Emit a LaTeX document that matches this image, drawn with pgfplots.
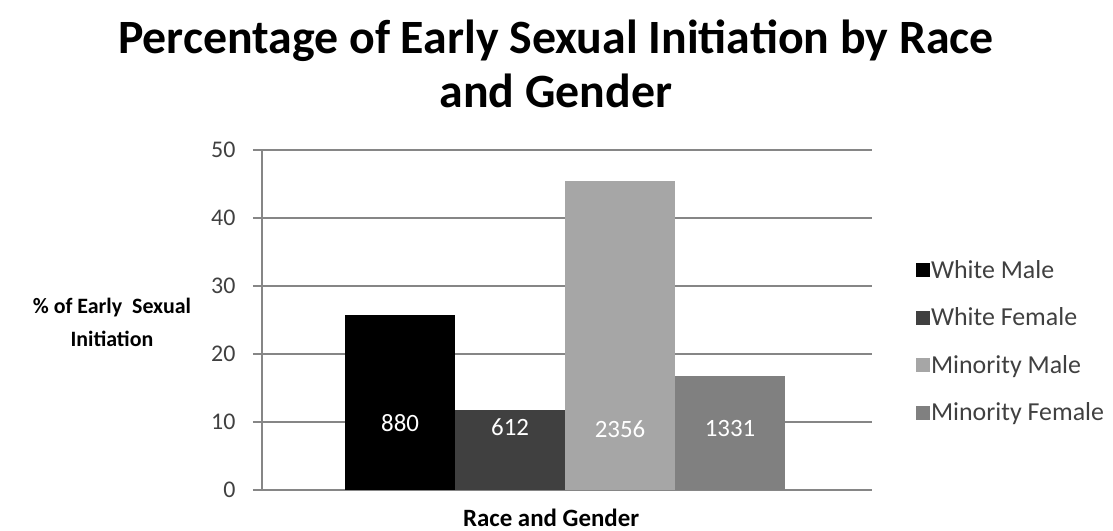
\documentclass[border=0pt]{standalone}
\usepackage{pgfplots}
\pgfplotsset{compat=1.18}
\usepackage{fontspec}
\setmainfont{Carlito}
\definecolor{wm}{HTML}{000000}
\definecolor{wf}{HTML}{404040}
\definecolor{mm}{HTML}{A6A6A6}
\definecolor{mf}{HTML}{808080}
\definecolor{gridc}{HTML}{868686}
\definecolor{txt}{HTML}{404040}
\begin{document}
\begin{tikzpicture}
\path[use as bounding box] (-262bp,-41bp) rectangle (851bp,490bp);
\begin{axis}[
  scale only axis,
  width=610bp, height=340bp,
  xmin=-1.255, xmax=4.29,
  ymin=0, ymax=50,
  ytick={0,10,20,30,40,50},
  xtick=\empty,
  axis lines*=left,
  axis line style={draw=gridc, line width=1.2bp},
  ymajorgrids,
  grid style={draw=gridc, line width=1.2bp},
  tick align=outside,
  major tick length=9bp,
  y tick style={draw=gridc, line width=1.2bp},
  /pgf/number format/assume math mode=true,
  yticklabel style={font=\fontsize{24}{28}\selectfont, text=txt, xshift=-14bp},
  ybar, bar width=1, bar shift=0pt,
  title={Percentage of Early Sexual Initiation by Race\\and Gender},
  title style={font=\bfseries\fontsize{48}{55}\selectfont, align=center,
    at={(axis description cs:0.482,1.236)}, anchor=center},
  ylabel={\% of Early\ \ Sexual\\Initiation},
  ylabel style={font=\bfseries\fontsize{22}{33}\selectfont, align=center, rotate=-90,
    at={(axis description cs:-0.246,0.494)}, anchor=center},
  xlabel={Race and Gender},
  xlabel style={font=\bfseries\fontsize{25}{28}\selectfont, inner sep=0pt,
    at={(axis description cs:0.474,-0.106)}, anchor=base},
  legend image code/.code={\fill[#1] (0bp,-7bp) rectangle (14bp,7bp);},
  legend style={draw=none, fill=none, at={(axis description cs:1.067,0.437)}, anchor=west,
    font=\fontsize{26}{30}\selectfont, text=txt, row sep=26bp,
    nodes={inner sep=1bp}},
  legend cell align=left,
]
\addplot[fill=wm, draw=none] coordinates {(0,25.7)};
\addplot[fill=wf, draw=none] coordinates {(1,11.7)};
\addplot[fill=mm, draw=none] coordinates {(2,45.4)};
\addplot[fill=mf, draw=none] coordinates {(3,16.8)};
\legend{White Male, White Female, Minority Male, Minority Female}
\node[text=white, font=\fontsize{25}{28}\selectfont] at (axis cs:0,9.85) {880};
\node[text=white, font=\fontsize{25}{28}\selectfont] at (axis cs:1,9.2) {612};
\node[text=white, font=\fontsize{25}{28}\selectfont] at (axis cs:2,9.0) {2356};
\node[text=white, font=\fontsize{25}{28}\selectfont] at (axis cs:3,9.0) {1331};
\end{axis}
\end{tikzpicture}
\end{document}
